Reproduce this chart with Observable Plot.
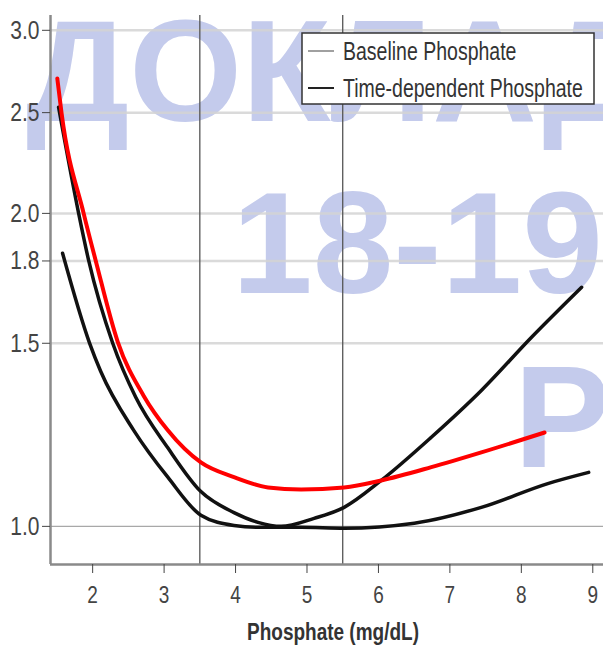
<!DOCTYPE html>
<html><head><meta charset="utf-8">
<script src="https://cdn.jsdelivr.net/npm/d3@7"></script>
<script src="https://cdn.jsdelivr.net/npm/@observablehq/plot@0.6"></script>
<style>
html,body{margin:0;padding:0;background:#fff;}
#chart{width:603px;height:646px;overflow:hidden;}
</style></head><body><div id="chart"></div>
<script>
// ---- data ----
const seriesNames = ["Baseline Phosphate", "Time-dependent Phosphate"];
const xTicks = [2, 3, 4, 5, 6, 7, 8, 9];
const yTicks = [1.0, 1.5, 1.8, 2.0, 2.5, 3.0];
const refLines = [3.5, 5.5];
const watermarkRows = ["ДОКЛАД", "18-19", "Р"];

// red curve
const redX = [1.505, 1.565, 1.874, 2.042, 2.351, 2.715, 3.052, 3.515, 3.978, 4.454, 4.917, 5.52, 6.039, 6.74, 7.44, 8.325];
const redY = [2.697, 2.496, 2.000, 1.802, 1.505, 1.335, 1.237, 1.152, 1.115, 1.090, 1.085, 1.090, 1.107, 1.140, 1.178, 1.231];
// black curve A (steep U)
const aX = [1.523, 1.804, 1.944, 2.281, 2.603, 3.052, 3.515, 3.978, 4.314, 4.637, 5.10, 5.52, 6.039, 6.74, 7.44, 8.143, 8.844];
const aY = [2.530, 2.000, 1.802, 1.500, 1.331, 1.190, 1.080, 1.031, 1.009, 1.000, 1.018, 1.043, 1.107, 1.218, 1.351, 1.520, 1.698];
// black curve B (flat U)
const bX = [1.579, 1.958, 2.112, 2.575, 3.052, 3.515, 3.978, 4.314, 4.917, 5.52, 6.502, 7.44, 8.381, 8.943];
const bY = [1.831, 1.500, 1.410, 1.237, 1.115, 1.025, 1.002, 0.998, 0.998, 0.996, 1.007, 1.043, 1.100, 1.127];

const rows = (xs, ys) => xs.map((x, i) => ({x, y: ys[i]}));
const font = "'Liberation Sans', Arial, Helvetica, sans-serif";
const xDomain = [1.41, 9.15];
const yDomain = [0.919, 3.1];

const svg = Plot.plot({
  width: 603, height: 646,
  marginLeft: 50, marginRight: 0, marginTop: 15, marginBottom: 82,
  style: {fontFamily: font, background: "transparent", overflow: "hidden"},
  x: {domain: xDomain},
  y: {type: "log", domain: yDomain},
  marks: [
    Plot.ruleY(yTicks.filter(v => v !== 1), {stroke: "#d4d4d4", strokeWidth: 2.5, strokeOpacity: 0.85}),
    Plot.ruleY([1], {stroke: "#a8a8a8", strokeWidth: 1.3}),
    Plot.ruleX(refLines, {stroke: "#555", strokeWidth: 1.3}),
    Plot.line(rows(bX, bY), {x: "x", y: "y", stroke: "#111", strokeWidth: 3.5, curve: "monotone-x"}),
    Plot.line(rows(aX, aY), {x: "x", y: "y", stroke: "#111", strokeWidth: 3.5, curve: "monotone-x"}),
    Plot.line(rows(redX, redY), {x: "x", y: "y", stroke: "#ff0000", strokeWidth: 4, curve: "monotone-x"}),
    Plot.ruleX([xDomain[0]], {stroke: "#8a8a8a", strokeWidth: 2.5}),
    Plot.ruleY([yDomain[0]], {stroke: "#8a8a8a", strokeWidth: 2.5}),
    Plot.axisY({ticks: yTicks, tickFormat: d3.format(".1f"), tickSize: 8, tickPadding: 3, fontSize: 21, color: "#444", label: null}),
    Plot.axisX({ticks: xTicks, tickSize: 9, tickPadding: 13, fontSize: 19, color: "#444", label: null}),
    Plot.text(["Phosphate (mg/dL)"], {frameAnchor: "bottom", lineAnchor: "middle", dy: 68, dx: 6, fontWeight: "bold", fontSize: 19, fill: "#333"})
  ]
});

// the reference's text is vertically stretched
svg.querySelectorAll("text").forEach(t => {
  const tr = t.getAttribute("transform");
  if (tr) t.setAttribute("transform", tr + " scale(1,1.25)");
  else {
    const x = +t.getAttribute("x") || 0, y = +t.getAttribute("y") || 0;
    t.removeAttribute("x"); t.removeAttribute("y");
    t.setAttribute("transform", `translate(${x},${y}) scale(1,1.25)`);
  }
});

const sel = d3.select(svg);
// watermark (behind everything)
const wm = sel.insert("g", "g")
  .attr("fill", "#c4cbec").attr("font-family", font).attr("text-anchor", "start")
  .attr("font-weight", "bold").attr("font-size", 145);
const wmPos = [[26, 121], [232, 293], [514, 467]];
watermarkRows.forEach((s, i) => wm.append("text").attr("x", wmPos[i][0]).attr("y", wmPos[i][1]).text(s));

// legend
const lg = sel.append("g").attr("font-family", font).attr("font-size", 19.5)
  .attr("fill", "#333").attr("text-anchor", "start");
lg.append("rect").attr("x", 302).attr("y", 33).attr("width", 292).attr("height", 71)
  .attr("fill", "#fff").attr("stroke", "#333").attr("stroke-width", 1.5);
seriesNames.forEach((name, i) => {
  const cy = 51 + i * 37;
  lg.append("line").attr("x1", 308).attr("x2", 334).attr("y1", cy).attr("y2", cy)
    .attr("stroke", i === 0 ? "#a0a0a0" : "#222").attr("stroke-width", 2);
  lg.append("text").attr("transform", `translate(343,${cy}) scale(1,1.3)`).attr("dy", "0.35em").text(name);
});

document.getElementById("chart").appendChild(svg);
</script>
</body></html>
